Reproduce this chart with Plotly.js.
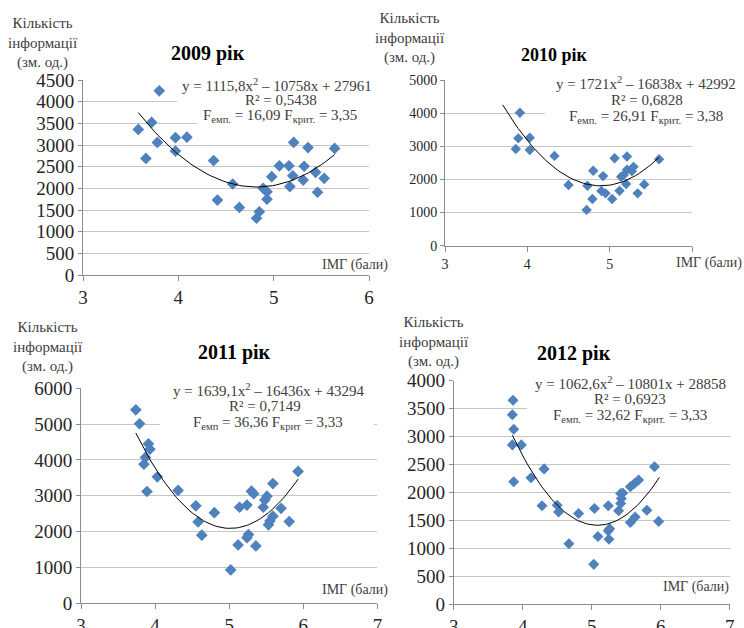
<!DOCTYPE html>
<html>
<head>
<meta charset="utf-8">
<script src="https://cdn.plot.ly/plotly-3.0.1.min.js"></script>
<style>html,body{margin:0;padding:0;background:#fff;}#chart{width:744px;height:628px;}</style>
</head>
<body>
<div id="chart"></div>
<script>
// ---- data ----
const x2009 = [3.58, 3.66, 3.72, 3.80, 3.78, 3.97, 3.97, 4.09, 4.37, 4.41, 4.57, 4.64, 4.82, 4.85, 4.89, 4.93, 4.93, 4.98, 5.06, 5.16, 5.17, 5.21, 5.20, 5.32, 5.31, 5.36, 5.44, 5.46, 5.53, 5.64];
const y2009 = [3360, 2690, 3520, 4250, 3060, 3170, 2860, 3180, 2640, 1730, 2100, 1560, 1310, 1460, 2000, 1920, 1750, 2270, 2520, 2520, 2040, 3060, 2290, 2510, 2190, 2940, 2370, 1910, 2230, 2920];

const x2010 = [3.91, 3.89, 3.86, 4.03, 4.03, 4.33, 4.50, 4.72, 4.73, 4.80, 4.79, 4.92, 4.90, 4.95, 5.03, 5.06, 5.12, 5.14, 5.20, 5.21, 5.21, 5.29, 5.27, 5.17, 5.34, 5.42, 5.60];
const y2010 = [4010, 3240, 2920, 3260, 2890, 2710, 1830, 1080, 1810, 2260, 1410, 2100, 1650, 1580, 1410, 2640, 1660, 2080, 1860, 2690, 2290, 2380, 2250, 2130, 1580, 1850, 2610];

const x2011 = [3.74, 3.79, 3.91, 3.93, 3.87, 3.85, 3.89, 4.03, 4.31, 4.55, 4.58, 4.63, 4.80, 5.02, 5.12, 5.14, 5.24, 5.26, 5.24, 5.30, 5.33, 5.36, 5.46, 5.48, 5.51, 5.53, 5.55, 5.59, 5.59, 5.70, 5.81, 5.93];
const y2011 = [5400, 5010, 4450, 4300, 4070, 3880, 3120, 3530, 3150, 2720, 2270, 1900, 2530, 930, 1630, 2680, 2740, 1920, 1830, 3130, 3060, 1600, 2680, 2880, 2990, 2190, 2300, 2430, 3340, 2650, 2280, 3680];

const x2012 = [3.86, 3.85, 3.87, 3.85, 3.98, 3.87, 4.12, 4.31, 4.28, 4.50, 4.52, 4.67, 4.81, 5.03, 5.04, 5.09, 5.25, 5.24, 5.26, 5.24, 5.39, 5.42, 5.43, 5.42, 5.45, 5.56, 5.63, 5.56, 5.62, 5.68, 5.80, 5.91, 5.97];
const y2012 = [3650, 3390, 3130, 2850, 2850, 2190, 2260, 2420, 1760, 1770, 1650, 1080, 1620, 710, 1710, 1210, 1160, 1310, 1350, 1760, 1670, 1800, 1890, 1980, 1990, 1460, 1560, 2100, 2160, 2220, 1680, 2460, 1480];

// trendline coefficients (a, b, c) printed on the chart, and the x-span drawn
const fit2009 = [1115.8, -10758, 27961];
const fit2010 = [1721, -16838, 42992];
const fit2011 = [1639.1, -16436, 43294];
const fit2012 = [1062.6, -10801, 28858];
const span2009 = [3.58, 5.64];
const span2010 = [3.70, 5.60];
const span2011 = [3.74, 5.93];
const span2012 = [3.85, 5.98];

const titles = ['2009 рік', '2010 рік', '2011 рік', '2012 рік'];
const eq2009 = ['y = 1115,8x<sup>2</sup> – 10758x + 27961', 'R² = 0,5438', 'F<sub>емп.</sub> = 16,09 F<sub>крит.</sub> = 3,35'];
const eq2010 = ['y = 1721x<sup>2</sup> – 16838x + 42992', 'R² = 0,6828', 'F<sub>емп.</sub> = 26,91 F<sub>крит.</sub> = 3,38'];
const eq2011 = ['y = 1639,1x<sup>2</sup> – 16436x + 43294', 'R² = 0,7149', 'F<sub>емп</sub> = 36,36 F<sub>крит</sub> = 3,33'];
const eq2012 = ['y = 1062,6x<sup>2</sup> – 10801x + 28858', 'R² = 0,6923', 'F<sub>емп.</sub> = 32,62 F<sub>крит.</sub> = 3,33'];
const yTitle = 'Кількість<br>інформації<br>(зм. од.)';
const xTitle = 'ІМГ (бали)';

// ---- drawing ----
const W = 744, H = 628;
const SERIF = 'Liberation Serif';
const BLUE = '#4f81bd';
const px = v => v / W;
const py = v => 1 - v / H;

function curve(fit, span) {
  const xs = [], ys = [];
  const n = 60;
  for (let i = 0; i <= n; i++) {
    const x = span[0] + (span[1] - span[0]) * i / n;
    xs.push(x);
    ys.push(fit[0] * x * x + fit[1] * x + fit[2]);
  }
  return {xs, ys};
}

const sets = [
  {x: x2009, y: y2009, fit: fit2009, span: span2009, ms: 9},
  {x: x2010, y: y2010, fit: fit2010, span: span2010, ms: 8},
  {x: x2011, y: y2011, fit: fit2011, span: span2011, ms: 9},
  {x: x2012, y: y2012, fit: fit2012, span: span2012, ms: 8.5}
];

const traces = [];
sets.forEach((s, i) => {
  const sfx = i === 0 ? '' : String(i + 1);
  traces.push({type: 'scatter', mode: 'markers', x: s.x, y: s.y, xaxis: 'x' + sfx, yaxis: 'y' + sfx,
    marker: {symbol: 'diamond', size: s.ms, color: BLUE, line: {width: 0}}, showlegend: false, hoverinfo: 'x+y'});
  const c = curve(s.fit, s.span);
  traces.push({type: 'scatter', mode: 'lines', x: c.xs, y: c.ys, xaxis: 'x' + sfx, yaxis: 'y' + sfx,
    line: {color: '#000000', width: 1}, showlegend: false, hoverinfo: 'skip'});
});

function xa(d0, d1, rng, anchor, tickvals, ticktext, fs) {
  return {domain: [px(d0), px(d1)], range: rng, anchor: anchor, tickmode: 'array', tickvals: tickvals, ticktext: ticktext,
    showgrid: false, zeroline: false, showline: true, linecolor: '#8c8c8c', linewidth: 1,
    ticks: 'outside', ticklen: 5, tickcolor: '#8c8c8c', tickfont: {family: SERIF, size: fs, color: '#262626'}, fixedrange: true};
}
function ya(top, bottom, rng, dtick, anchor, fs) {
  return {domain: [py(bottom), py(top)], range: rng, anchor: anchor, tickmode: 'linear', tick0: 0, dtick: dtick,
    showgrid: true, gridcolor: '#c6c6c6', gridwidth: 1, zeroline: false, showline: true, linecolor: '#8c8c8c', linewidth: 1,
    ticks: 'outside', ticklen: 4, tickcolor: '#8c8c8c', tickfont: {family: SERIF, size: fs, color: '#262626'}, fixedrange: true};
}

function ann(text, x, y, size, opts) {
  return Object.assign({text: text, xref: 'paper', yref: 'paper', x: px(x), y: py(y), xanchor: 'center', yanchor: 'middle',
    showarrow: false, font: {family: SERIF, size: size, color: '#404040'}}, opts || {});
}

const annotations = [];
const shapes = [];
function rect(x0, x1, y0, y1) {
  shapes.push({type: 'rect', xref: 'paper', yref: 'paper', x0: px(x0), x1: px(x1), y0: py(y1), y1: py(y0),
    fillcolor: '#ffffff', line: {width: 0}, layer: 'above'});
}

const EQ = 15;
// panel 2009
annotations.push(ann(yTitle, 43, 43, 15));
annotations.push(ann('<b>' + titles[0] + '</b>', 208, 53, 20, {font: {family: SERIF, size: 20, color: '#000000'}}));
annotations.push(ann(xTitle, 355, 265, 14));
rect(177, 378, 75, 108); rect(197, 372, 108, 126);
annotations.push(ann(eq2009[0], 277, 85, EQ));
annotations.push(ann(eq2009[1], 281, 100, EQ));
annotations.push(ann(eq2009[2], 280, 116, EQ));

// panel 2010
annotations.push(ann(yTitle, 410, 38, 15));
annotations.push(ann('<b>' + titles[1] + '</b>', 554, 55, 18, {font: {family: SERIF, size: 18, color: '#000000'}}));
annotations.push(ann(xTitle, 709, 263, 14));
rect(545, 744, 73, 126);
annotations.push(ann(eq2010[0], 646, 83, EQ));
annotations.push(ann(eq2010[1], 647, 100, EQ));
annotations.push(ann(eq2010[2], 646, 117, EQ));

// panel 2011
annotations.push(ann(yTitle, 48, 347, 15));
annotations.push(ann('<b>' + titles[2] + '</b>', 234, 352, 20, {font: {family: SERIF, size: 20, color: '#000000'}}));
annotations.push(ann(xTitle, 355, 590, 14));
rect(160, 374, 380, 432);
annotations.push(ann(eq2011[0], 268, 390, EQ));
annotations.push(ann(eq2011[1], 265, 406, EQ));
annotations.push(ann(eq2011[2], 268, 423, EQ));

// panel 2012
annotations.push(ann(yTitle, 434, 342, 15));
annotations.push(ann('<b>' + titles[3] + '</b>', 574, 353, 20, {font: {family: SERIF, size: 20, color: '#000000'}}));
annotations.push(ann(xTitle, 696, 587, 14));
rect(527, 734, 373, 426);
annotations.push(ann(eq2012[0], 630, 383, EQ));
annotations.push(ann(eq2012[1], 630, 399, EQ));
annotations.push(ann(eq2012[2], 630, 416, EQ));

const layout = {
  width: W, height: H, margin: {l: 0, r: 0, t: 0, b: 0},
  font: {family: SERIF},
  paper_bgcolor: '#ffffff', plot_bgcolor: '#ffffff', showlegend: false,
  xaxis: xa(83, 369, [3, 6], 'y', [3, 4, 5, 6], ['3', '4', '5', '6'], 19),
  yaxis: ya(80, 275, [0, 4500], 500, 'x', 19),
  xaxis2: xa(445, 692, [3, 6], 'y2', [3, 4, 5, 6], ['3', '4', '5', ''], 14),
  yaxis2: ya(80, 245.7, [0, 5000], 1000, 'x2', 14),
  xaxis3: xa(81, 377.4, [3, 7], 'y3', [3, 4, 5, 6, 7], ['3', '4', '5', '6', '7'], 19),
  yaxis3: ya(388.3, 603.3, [0, 6000], 1000, 'x3', 19),
  xaxis4: xa(453.7, 729.7, [3, 7], 'y4', [3, 4, 5, 6, 7], ['3', '4', '5', '6', '7'], 19),
  yaxis4: ya(380.7, 604, [0, 4000], 500, 'x4', 19),
  annotations: annotations,
  shapes: shapes
};

Plotly.newPlot('chart', traces, layout, {displayModeBar: false, staticPlot: true});
</script>
</body>
</html>
